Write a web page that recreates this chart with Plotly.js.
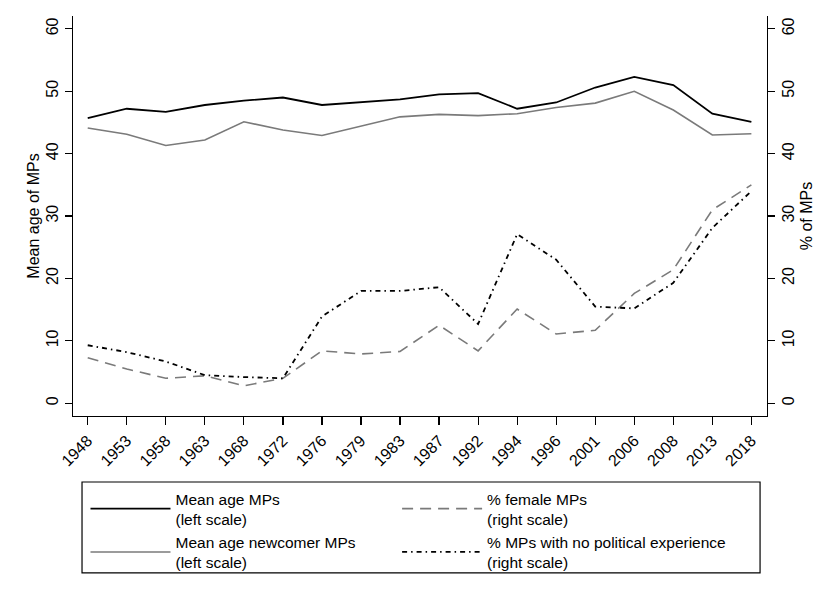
<!DOCTYPE html>
<html>
<head>
<meta charset="utf-8">
<script src="https://cdn.plot.ly/plotly-3.0.1.min.js"></script>
<style>
  body { margin: 0; background: #fff; }
  #chart { width: 829px; height: 590px; }
</style>
</head>
<body>
<div id="chart"></div>
<script>
// election years (categorical axis)
const years = ['1948', '1953', '1958', '1963', '1968', '1972', '1976', '1979', '1983',
               '1987', '1992', '1994', '1996', '2001', '2006', '2008', '2013', '2018'];

// left scale: mean age
const meanAgeMPs = [45.7, 47.2, 46.7, 47.8, 48.5, 49.0, 47.8, 48.3, 48.7,
                    49.5, 49.7, 47.2, 48.2, 50.6, 52.3, 51.0, 46.4, 45.1];
const meanAgeNewcomers = [44.1, 43.1, 41.3, 42.2, 45.1, 43.8, 42.9, 44.4, 45.9,
                          46.3, 46.1, 46.4, 47.4, 48.1, 50.0, 47.0, 43.0, 43.2];

// right scale: percentages
const pctFemale = [7.3, 5.5, 4.0, 4.4, 2.8, 4.0, 8.4, 7.9, 8.3,
                   12.5, 8.4, 15.1, 11.1, 11.7, 17.6, 21.4, 31.0, 35.0];
const pctNoExperience = [9.3, 8.2, 6.7, 4.5, 4.2, 4.0, 13.9, 18.0, 18.0,
                         18.6, 12.7, 27.1, 23.0, 15.5, 15.2, 19.3, 28.1, 34.0];

const FONT = 'Liberation Sans, Arial, sans-serif';

// left-scale series go in legend 1 (left column), right-scale in legend 2
const traces = [
    {
        x: years, y: meanAgeMPs, name: 'Mean age MPs<br>(left scale)',
        type: 'scatter', mode: 'lines', yaxis: 'y', legend: 'legend',
        line: { color: '#000000', width: 1.8 }
    },
    {
        x: years, y: meanAgeNewcomers, name: 'Mean age newcomer MPs<br>(left scale)',
        type: 'scatter', mode: 'lines', yaxis: 'y', legend: 'legend',
        line: { color: '#7a7a7a', width: 1.6 }
    },
    {
        x: years, y: pctFemale, name: '% female MPs<br>(right scale)',
        type: 'scatter', mode: 'lines', yaxis: 'y2', legend: 'legend2',
        line: { color: '#7a7a7a', width: 1.6, dash: '11px,7px' }
    },
    {
        x: years, y: pctNoExperience, name: '% MPs with no political experience<br>(right scale)',
        type: 'scatter', mode: 'lines', yaxis: 'y2', legend: 'legend2',
        line: { color: '#000000', width: 1.8, dash: '5px,4px,1.5px,4px' }
    }
];

const yCommon = {
    range: [-2.04, 62.06],
    tickvals: [0, 10, 20, 30, 40, 50, 60],
    tickangle: -90,
    ticks: 'outside', ticklen: 7, tickwidth: 1.2, tickcolor: '#000',
    showline: true, linecolor: '#000', linewidth: 1.2,
    showgrid: false, zeroline: false,
    tickfont: { family: FONT, size: 16, color: '#000' }
};

const legendCommon = {
    orientation: 'v',
    y: -0.165, yanchor: 'top',
    itemwidth: 80,
    bgcolor: 'rgba(0,0,0,0)',
    borderwidth: 0,
    font: { family: FONT, size: 15.5, color: '#000' }
};

const layout = {
    width: 829, height: 590,
    margin: { l: 73, r: 62, t: 16, b: 174, autoexpand: false },
    paper_bgcolor: '#fff', plot_bgcolor: '#fff',
    font: { family: FONT, size: 16, color: '#000' },
    xaxis: {
        type: 'category',
        range: [-0.377, 17.40],
        tickangle: -45,
        ticks: 'outside', ticklen: 8, tickwidth: 1.2, tickcolor: '#000',
        showline: true, linecolor: '#000', linewidth: 1.2,
        showgrid: false, zeroline: false,
        tickfont: { family: FONT, size: 16, color: '#000' }
    },
    yaxis: Object.assign({}, yCommon, {
        title: { text: 'Mean age of MPs', font: { family: FONT, size: 16 }, standoff: 0 }
    }),
    yaxis2: Object.assign({}, yCommon, {
        overlaying: 'y', side: 'right',
        title: { text: '% of MPs', font: { family: FONT, size: 16 }, standoff: 4 }
    }),
    showlegend: true,
    legend: Object.assign({}, legendCommon, { x: 0.018, xanchor: 'left' }),
    legend2: Object.assign({}, legendCommon, { x: 0.467, xanchor: 'left' }),
    // frame around both legend columns
    shapes: [{
        type: 'rect', xref: 'paper', yref: 'paper',
        x0: 0.013, x1: 0.99, y0: -0.392, y1: -0.165,
        line: { color: '#000', width: 1.2 }, fillcolor: 'rgba(0,0,0,0)'
    }]
};

Plotly.newPlot('chart', traces, layout, { displayModeBar: false, staticPlot: true });
</script>
</body>
</html>
